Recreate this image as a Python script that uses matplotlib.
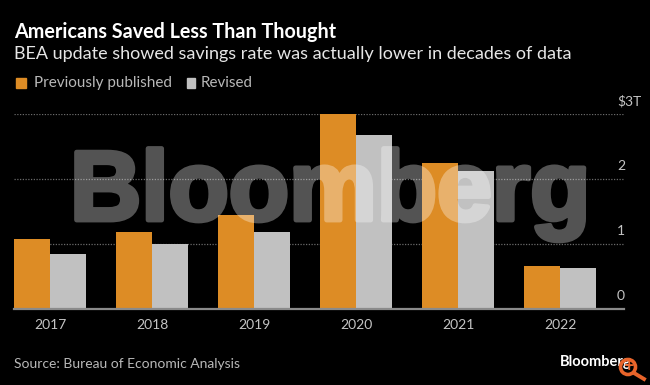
import matplotlib
matplotlib.use("Agg")
import matplotlib.pyplot as plt
import matplotlib.patheffects as pe
import numpy as np
from matplotlib.patches import Circle, Rectangle
from matplotlib.lines import Line2D

years = ["2017", "2018", "2019", "2020", "2021", "2022"]
published = [1.07, 1.18, 1.45, 3.0, 2.25, 0.66]
revised = [0.84, 1.0, 1.19, 2.68, 2.12, 0.63]
yticks = [0, 1, 2, 3]
ytick_labels = ["0", "1", "2", "$3T"]

W, H = 650, 385
orange = "#dd8c25"
gray = "#c1c1c1"
bg = "#000000"


def fade(img, dpi):
    # fades the whole watermark at once so the stroke does not double up
    img = img.copy()
    img[..., 3] *= 0.33
    return img, 0, 0


plt.rcParams["font.family"] = ["Lato", "DejaVu Sans"]
fig = plt.figure(figsize=(W / 100, H / 100), dpi=100, facecolor=bg)

# axes placed in pixels: x from 14 to 624, y 114 ($3T) to 309 (0)
ax = fig.add_axes([14 / W, 1 - 309 / H, 610 / W, 195 / H], facecolor=bg)
x = np.arange(len(years))
width = 0.35
ax.bar(x - width / 2, published, width, color=orange, zorder=3)
ax.bar(x + width / 2, revised, width, color=gray, zorder=3)
ax.set_xlim(-36 / 102, 574 / 102)
ax.set_ylim(0, 3)

for t in yticks[1:]:
    ax.axhline(t, color="#6a6a6a", lw=0.9, ls=(0, (1, 1.2)), zorder=1)
ax.axhline(0, color="#8a8a8a", lw=1.6, zorder=4, clip_on=False)

for s in ax.spines.values():
    s.set_visible(False)
ax.set_xticks(x)
ax.set_xticklabels(years, color="#c4c4c4", fontsize=10)
ax.tick_params(axis="x", length=0, pad=7)
ax.set_yticks([])
for t, lab in zip(yticks, ytick_labels):
    # labels sit left aligned above the right end of each gridline
    ax.annotate(lab.replace("$", r"\$"), (1, t), xycoords=("axes fraction", "data"),
                xytext=(-5, 9.5), textcoords="offset points", ha="left", va="center",
                color="#c4c4c4", fontsize=10, annotation_clip=False)

# titles
fig.text(14 / W, 1 - 32 / H, "Americans Saved Less Than Thought", color="white",
         fontsize=14.2, fontweight="bold", va="center")
fig.text(14 / W, 1 - 54 / H, "BEA update showed savings rate was actually lower in decades of data",
         color="#e6e6e6", fontsize=13, va="center")

# legend
fig.add_artist(Rectangle((16 / W, 1 - 88 / H), 10 / W, 10 / H, color=orange, transform=fig.transFigure))
fig.text(34 / W, 1 - 83 / H, "Previously published", color="#b8b8b8", fontsize=11, va="center")
fig.add_artist(Rectangle((187 / W, 1 - 88 / H), 8 / W, 10 / H, color=gray, transform=fig.transFigure))
fig.text(201 / W, 1 - 83 / H, "Revised", color="#b8b8b8", fontsize=10.9, va="center")

# source and logo
fig.text(14 / W, 1 - 364 / H, "Source: Bureau of Economic Analysis", color="#b8b8b8",
         fontsize=10, va="center")
fig.text(560 / W, 1 - 362 / H, "Bloomberg", color="white", fontsize=10.5, fontweight="bold", va="center")

# watermark over the bars
mark = fig.text(70 / W, 1 - 220 / H, "Bloomberg", color="white", fontsize=71,
                fontweight="bold", family="Liberation Sans", va="baseline", zorder=10)
mark.set_path_effects([pe.Stroke(linewidth=3.5, foreground="white"), pe.Normal()])
mark.set_agg_filter(fade)

# magnifier icon
fig.add_artist(Circle((628, H - 367), 7.5, transform=None, fill=False, ec="#e8642a", lw=2.6, zorder=11))
fig.add_artist(Line2D([634, 644], [H - 373, H - 379], transform=None, color="#e8642a", lw=2.8, zorder=11))
fig.text(628 / W, 1 - 367 / H, "+", color="#e8642a", fontsize=13, fontweight="bold",
         ha="center", va="center", zorder=11)

fig.savefig("out.png", dpi=100, facecolor=bg)
